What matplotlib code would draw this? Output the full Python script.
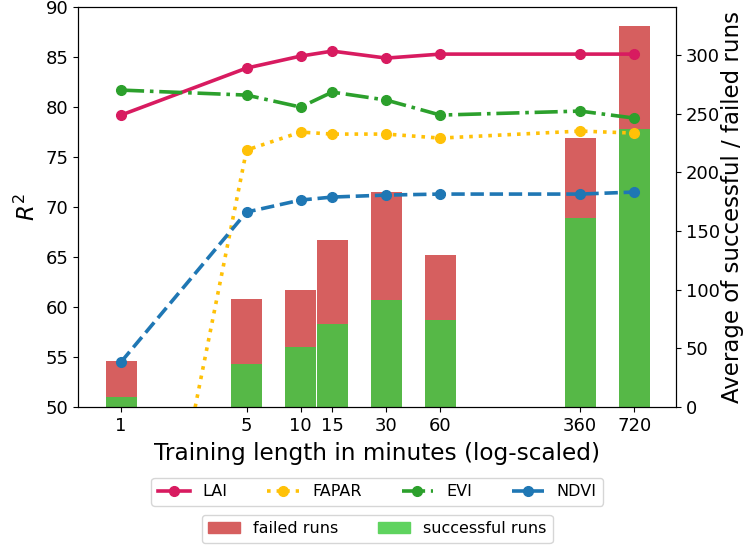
import numpy as np
import matplotlib.pyplot as plt
from matplotlib.patches import Patch
from matplotlib.ticker import NullLocator

minutes = [1, 5, 10, 15, 30, 60, 360, 720]
tick_labels = ["1", "5", "10", "15", "30", "60", "360", "720"]

# R^2 per index
lai = [79.2, 83.9, 85.1, 85.6, 84.9, 85.3, 85.3, 85.3]
fapar = [12.9, 75.7, 77.5, 77.3, 77.3, 76.9, 77.6, 77.4]
evi = [81.7, 81.2, 80.0, 81.5, 80.7, 79.2, 79.6, 78.9]
ndvi = [54.5, 69.5, 70.7, 71.0, 71.2, 71.3, 71.3, 71.5]

# average runs
successful = [8.5, 36.3, 51.3, 71.2, 91.6, 74.0, 161.0, 236.9]
failed = [30.5, 56.2, 48.3, 71.5, 92.0, 55.4, 68.5, 88.1]

RED = "#d65f5f"
GREEN_BAR = "#56b847"
GREEN_LEG = "#5fd35f"

fig = plt.figure(figsize=(7.47, 5.47), dpi=100)
ax = fig.add_axes([0.1044, 0.2559, 0.8006, 0.7311])
ax2 = ax.twinx()

x = np.array(minutes, dtype=float)
f = 1.22  # bars look equally wide on the log axis
left = x / f
width = x * f - x / f
ax2.bar(left, successful, width=width, align="edge", color=GREEN_BAR, linewidth=0)
ax2.bar(left, failed, width=width, bottom=successful, align="edge", color=RED, linewidth=0)

ax.set_zorder(ax2.get_zorder() + 1)
ax.patch.set_visible(False)

lw = 2.6
ms = 7
ax.plot(minutes, lai, "-", marker="o", color="#d81b60", lw=lw, ms=ms, label="LAI")
ax.plot(minutes, fapar, ":", marker="o", color="#ffc107", lw=lw, ms=ms, label="FAPAR")
ax.plot(minutes, evi, "-.", marker="o", color="#2ca02c", lw=lw, ms=ms, label="EVI")
ax.plot(minutes, ndvi, "--", marker="o", color="#1f77b4", lw=lw, ms=ms, label="NDVI")

ax.set_xscale("log")
ax.set_xlim(0.576, 1231)
ax.set_ylim(50, 90)
ax.set_xticks(minutes, tick_labels)
ax.xaxis.set_minor_locator(NullLocator())
ax.tick_params(labelsize=13)
ax2.tick_params(labelsize=13)
ax2.set_ylim(0, 341)

ax.set_xlabel("Training length in minutes (log-scaled)", fontsize=16.7, labelpad=5)
ax.set_ylabel("$R^2$", fontsize=16.5)
ax2.set_ylabel("Average of successful / failed runs", fontsize=16.5, labelpad=1)

fig.legend(loc="upper center", bbox_to_anchor=(0.505, 0.141), ncol=4, fontsize=11.5,
           handlelength=2, columnspacing=2.5)
bar_handles = [Patch(color=RED, label="failed runs"), Patch(color=GREEN_LEG, label="successful runs")]
fig.legend(handles=bar_handles, loc="upper center", bbox_to_anchor=(0.505, 0.073), ncol=2,
           fontsize=11.5, columnspacing=2.5)

fig.savefig("out.png", dpi=100)
